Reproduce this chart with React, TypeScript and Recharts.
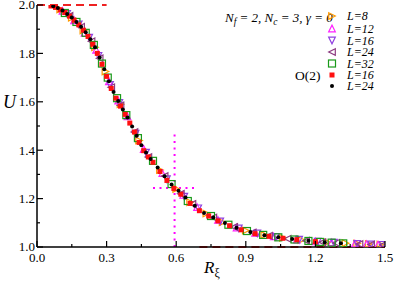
import React from "react";
import { ScatterChart, Scatter, XAxis, YAxis, ReferenceLine } from "recharts";

// tick positions (major ones get a label)
const xTicks = [0, 0.15, 0.3, 0.45, 0.6, 0.75, 0.9, 1.05, 1.2, 1.35, 1.5];
const xMajor = [0, 0.3, 0.6, 0.9, 1.2, 1.5];
const yTicks = [1.0, 1.1, 1.2, 1.3, 1.4, 1.5, 1.6, 1.7, 1.8, 1.9, 2.0];
const yMajor = [1.0, 1.2, 1.4, 1.6, 1.8, 2.0];

// lattice data, N_f = 2, N_c = 3 : [R_xi, U]
const lat8 = [[0.1, 1.982], [0.15, 1.947], [0.2, 1.895], [0.25, 1.825], [0.295, 1.725], [0.36, 1.59], [0.44, 1.44], [0.53, 1.318], [0.6, 1.24], [0.66, 1.185], [0.73, 1.138], [0.8, 1.102], [0.9, 1.068], [0.98, 1.05], [1.06, 1.038], [1.14, 1.029], [1.25, 1.02], [1.33, 1.016], [1.38, 1.014], [1.43, 1.012], [1.48, 1.01]];
const lat12 = [[0.11, 1.976], [0.16, 1.937], [0.205, 1.885], [0.255, 1.815], [0.31, 1.685], [0.35, 1.605], [0.39, 1.54], [0.46, 1.405], [0.54, 1.305], [0.63, 1.215], [0.69, 1.165], [0.78, 1.112], [0.86, 1.08], [0.94, 1.058], [1.02, 1.044], [1.12, 1.031], [1.2, 1.023], [1.27, 1.019], [1.37, 1.014], [1.42, 1.012], [1.47, 1.01]];
const lat16 = [[0.13, 1.963], [0.18, 1.92], [0.225, 1.865], [0.265, 1.79], [0.315, 1.67], [0.355, 1.595], [0.425, 1.468], [0.47, 1.39], [0.56, 1.28], [0.635, 1.208], [0.695, 1.16], [0.79, 1.106], [0.87, 1.077], [0.95, 1.056], [1.03, 1.042], [1.13, 1.03], [1.21, 1.022], [1.28, 1.018], [1.38, 1.013], [1.44, 1.011], [1.49, 1.009]];
const lat24 = [[0.14, 1.955], [0.19, 1.91], [0.235, 1.85], [0.27, 1.78], [0.32, 1.66], [0.36, 1.585], [0.42, 1.475], [0.48, 1.372], [0.55, 1.293], [0.62, 1.22], [0.67, 1.178], [0.76, 1.122], [0.85, 1.083], [0.93, 1.06], [1.0, 1.046], [1.08, 1.034], [1.16, 1.026], [1.23, 1.02], [1.29, 1.017], [1.39, 1.012], [1.44, 1.01], [1.49, 1.008]];
const lat32 = [[0.12, 1.967], [0.17, 1.93], [0.21, 1.885], [0.245, 1.835], [0.28, 1.758], [0.305, 1.7], [0.345, 1.615], [0.385, 1.545], [0.435, 1.45], [0.5, 1.356], [0.58, 1.26], [0.65, 1.19], [0.75, 1.128], [0.825, 1.092], [0.905, 1.066], [0.975, 1.05], [1.04, 1.04], [1.11, 1.031], [1.17, 1.025], [1.22, 1.021], [1.27, 1.018], [1.32, 1.015]];

// O(2) model
const o2L16 = [[0.06, 1.996], [0.08, 1.99], [0.1, 1.98], [0.12, 1.969], [0.14, 1.954], [0.16, 1.937], [0.18, 1.918], [0.2, 1.896], [0.22, 1.87], [0.24, 1.838], [0.26, 1.8], [0.28, 1.755], [0.3, 1.705], [0.32, 1.655], [0.34, 1.615], [0.36, 1.582], [0.38, 1.548], [0.4, 1.512], [0.42, 1.475], [0.44, 1.432], [0.46, 1.398], [0.48, 1.372], [0.5, 1.35], [0.53, 1.312], [0.56, 1.275], [0.59, 1.242], [0.62, 1.218], [0.66, 1.18], [0.7, 1.15], [0.74, 1.128], [0.78, 1.108], [0.83, 1.088], [0.88, 1.071], [0.94, 1.055], [1.0, 1.044], [1.06, 1.036], [1.12, 1.03], [1.2, 1.022]];
const o2L24 = [[0.07, 1.995], [0.09, 1.988], [0.11, 1.977], [0.13, 1.963], [0.15, 1.948], [0.17, 1.93], [0.19, 1.91], [0.21, 1.887], [0.23, 1.858], [0.25, 1.825], [0.27, 1.783], [0.29, 1.735], [0.31, 1.685], [0.33, 1.64], [0.35, 1.603], [0.37, 1.568], [0.39, 1.535], [0.41, 1.498], [0.43, 1.46], [0.45, 1.42], [0.47, 1.39], [0.49, 1.364], [0.52, 1.328], [0.55, 1.292], [0.58, 1.258], [0.61, 1.232], [0.64, 1.205], [0.68, 1.17], [0.72, 1.14], [0.76, 1.122], [0.81, 1.099], [0.86, 1.08], [0.92, 1.062], [0.98, 1.049], [1.04, 1.04], [1.1, 1.033], [1.17, 1.026], [1.24, 1.02], [1.31, 1.016]];

// guides
const limitHigh = { u: 2, from: 0, to: 0.3 };
const limitLow = { u: 1, from: 0.7, to: 1.5 };
const crossR = 0.593;
const crossU = 1.244;
const crossSpan = { r: [0.5, 0.69], u: [1.0, 1.48] };

const toPts = (a: number[][]) => a.map(([r, u]) => ({ r, u }));

const FONT = "Times New Roman";
const RED = "#ee2222";
const txt = (size: number, italic = false) => ({
  fontFamily: FONT,
  fontSize: size,
  fontStyle: italic ? "italic" : "normal",
});

const tri = (color: string, dir: string) => (p: any) => {
  const { cx, cy } = p;
  if (cx == null || cy == null) return <g />;
  const s = 3.3;
  let pts = "";
  if (dir === "right") pts = `${cx - s},${cy - s} ${cx + s},${cy} ${cx - s},${cy + s}`;
  if (dir === "left") pts = `${cx + s},${cy - s} ${cx - s},${cy} ${cx + s},${cy + s}`;
  if (dir === "up") pts = `${cx - s},${cy + s} ${cx},${cy - s} ${cx + s},${cy + s}`;
  if (dir === "down") pts = `${cx - s},${cy - s} ${cx},${cy + s} ${cx + s},${cy - s}`;
  return <polygon points={pts} fill="none" stroke={color} strokeWidth={1.2} />;
};

const openSquare = (color: string) => (p: any) => {
  const { cx, cy } = p;
  if (cx == null || cy == null) return <g />;
  return <rect x={cx - 3.5} y={cy - 3.5} width={7} height={7} fill="none" stroke={color} strokeWidth={1.2} />;
};

const filledSquare = (color: string) => (p: any) => {
  const { cx, cy } = p;
  if (cx == null || cy == null) return <g />;
  return <rect x={cx - 2.5} y={cy - 2.5} width={5} height={5} fill={color} />;
};

const dot = (color: string) => (p: any) => {
  const { cx, cy } = p;
  if (cx == null || cy == null) return <g />;
  return <circle cx={cx} cy={cy} r={2} fill={color} />;
};

const series = [
  { name: "L=8", data: lat8, shape: tri("#ff9a00", "right") },
  { name: "L=12", data: lat12, shape: tri("#ff22ff", "up") },
  { name: "L=16", data: lat16, shape: tri("#9040e0", "down") },
  { name: "L=24", data: lat24, shape: tri("#8c3a80", "left") },
  { name: "L=32", data: lat32, shape: openSquare("#1a9a1a") },
  { name: "L=16", data: o2L16, shape: filledSquare("#ff1010") },
  { name: "L=24", data: o2L24, shape: dot("#000000") },
];

const isMajor = (v: number, majors: number[]) => majors.some((m) => Math.abs(m - v) < 1e-6);

const BottomTick = (p: any) => {
  const { x, y, payload } = p;
  const major = isMajor(payload.value, xMajor);
  return (
    <g>
      <line x1={x} y1={y} x2={x} y2={y - (major ? 6 : 3)} stroke="#000" strokeWidth={1.2} />
      {major && (
        <text x={x} y={y + 15} textAnchor="middle" style={txt(13)} fill="#000">
          {payload.value.toFixed(1)}
        </text>
      )}
    </g>
  );
};

const TopTick = (p: any) => {
  const { x, y, payload } = p;
  const major = isMajor(payload.value, xMajor);
  return <line x1={x} y1={y} x2={x} y2={y + (major ? 6 : 3)} stroke="#000" strokeWidth={1.2} />;
};

const LeftTick = (p: any) => {
  const { x, y, payload } = p;
  const major = isMajor(payload.value, yMajor);
  return (
    <g>
      <line x1={x} y1={y} x2={x + (major ? 6 : 3)} y2={y} stroke="#000" strokeWidth={1.2} />
      {major && (
        <text x={x - 2} y={y + 4.3} textAnchor="end" style={txt(13)} fill="#000">
          {payload.value.toFixed(1)}
        </text>
      )}
    </g>
  );
};

const RightTick = (p: any) => {
  const { x, y, payload } = p;
  const major = isMajor(payload.value, yMajor);
  return <line x1={x} y1={y} x2={x - (major ? 6 : 3)} y2={y} stroke="#000" strokeWidth={1.2} />;
};

export default function App() {
  const axisLine = { stroke: "#000", strokeWidth: 1.5 };
  const legendY = [16, 28.5, 40.5, 52, 63.5, 75, 86];
  return (
    <div style={{ position: "absolute", left: 0, top: 0, width: 395, height: 283, background: "#fff" }}>
      <ScatterChart width={395} height={283} margin={{ top: 5, right: 10, bottom: 0, left: 0 }}>
        <XAxis
          dataKey="r"
          type="number"
          domain={[0, 1.5]}
          ticks={xTicks}
          interval={0}
          height={36}
          tickSize={0}
          tickMargin={0}
          tickLine={false}
          axisLine={axisLine}
          tick={<BottomTick />}
          allowDataOverflow
        />
        <XAxis
          xAxisId="top"
          orientation="top"
          type="number"
          domain={[0, 1.5]}
          ticks={xTicks}
          interval={0}
          height={0}
          tickSize={0}
          tickMargin={0}
          tickLine={false}
          axisLine={axisLine}
          tick={<TopTick />}
          allowDataOverflow
        />
        <YAxis
          dataKey="u"
          type="number"
          domain={[1, 2]}
          ticks={yTicks}
          interval={0}
          width={37}
          tickSize={0}
          tickMargin={0}
          tickLine={false}
          axisLine={axisLine}
          tick={<LeftTick />}
          allowDataOverflow
        />
        <YAxis
          yAxisId="right"
          orientation="right"
          type="number"
          domain={[1, 2]}
          ticks={yTicks}
          interval={0}
          width={0}
          tickSize={0}
          tickMargin={0}
          tickLine={false}
          axisLine={axisLine}
          tick={<RightTick />}
          allowDataOverflow
        />
        {series.map((s, i) => (
          <Scatter
            key={i}
            name={s.name}
            data={toPts(s.data)}
            shape={s.shape}
            isAnimationActive={false}
          />
        ))}
        <ReferenceLine
          segment={[{ x: limitHigh.from, y: limitHigh.u }, { x: limitHigh.to, y: limitHigh.u }]}
          stroke={RED}
          strokeWidth={2}
          strokeDasharray="8 5"
          ifOverflow="visible"
        />
        <ReferenceLine
          segment={[{ x: limitLow.from, y: limitLow.u }, { x: limitLow.to, y: limitLow.u }]}
          stroke={RED}
          strokeWidth={2}
          strokeDasharray="8 5"
          ifOverflow="visible"
        />
        <ReferenceLine
          segment={[{ x: crossR, y: crossSpan.u[0] }, { x: crossR, y: crossSpan.u[1] }]}
          stroke="#ff00ff"
          strokeWidth={2}
          strokeDasharray="2 4.5"
          ifOverflow="visible"
        />
        <ReferenceLine
          segment={[{ x: crossSpan.r[0], y: crossU }, { x: crossSpan.r[1], y: crossU }]}
          stroke="#ff00ff"
          strokeWidth={2}
          strokeDasharray="2 4.5"
          ifOverflow="visible"
        />
      </ScatterChart>
      <svg
        width={395}
        height={283}
        style={{ position: "absolute", left: 0, top: 0, pointerEvents: "none" }}
      >
        <text x={3} y={108} style={txt(18, true)}>U</text>
        <text x={204} y={273} style={txt(17, true)}>
          R<tspan style={txt(12)} dy={4}>ξ</tspan>
        </text>
        <text x={225} y={22} style={txt(13, true)}>
          N<tspan style={txt(9.5, true)} dy={3}>f</tspan>
          <tspan dy={-3}> = 2, N</tspan>
          <tspan style={txt(9.5, true)} dy={3}>c</tspan>
          <tspan dy={-3}> = 3, γ = 0</tspan>
        </text>
        <text x={295} y={80} style={txt(13.5)}>O(2)</text>
        {series.map((s, i) => (
          <g key={i}>
            {s.shape({ cx: 332, cy: legendY[i] })}
            <text x={347} y={legendY[i] + 4} style={txt(12, true)}>
              {s.name}
            </text>
          </g>
        ))}
      </svg>
    </div>
  );
}
